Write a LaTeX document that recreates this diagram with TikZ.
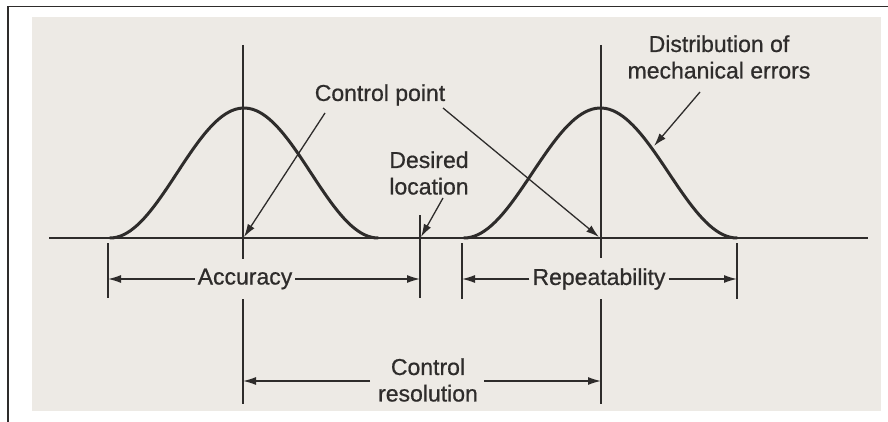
\documentclass[tikz,border=0pt]{standalone}
\usepackage{fontspec}
\setmainfont{Liberation Sans}
\newfontfamily\lblfont{Liberation Sans}[UprightFeatures={FakeBold=0.7}]
\usetikzlibrary{arrows.meta}
\definecolor{paper}{HTML}{EDEAE5}
\definecolor{ink}{HTML}{2E2C2B}
\begin{document}
\begin{tikzpicture}[x=1pt,y=-1pt,
  thin line/.style={draw=ink,line width=1.3pt},
  curve/.style={draw=ink,line width=3pt,line cap=round},
  arr/.style={thin line,-{Latex[length=13pt,width=8pt]}},
  lbl/.style={text=ink,font=\lblfont\fontsize{23}{26.5}\selectfont,inner sep=3pt,align=center}]
\useasboundingbox (0,0) rectangle (888,422);
% frame and paper
\fill[white] (0,0) rectangle (888,422);
\fill[paper] (32,17) rectangle (881,411);
\draw[draw=ink,line width=1.6pt] (8,422) -- (8,6.5) -- (888,6.5);
% baseline
\coordinate (b0) at (49,238);
\coordinate (b1) at (868,238);
\draw[draw=ink,line width=1.7pt] (b0) -- (b1);
% curves
\draw[curve] plot[domain=-1:1,samples=80] ({244+134*\x},{238-130*(1+cos(180*\x))/2});
\draw[curve] plot[domain=-1:1,samples=80] ({600.5+136.5*\x},{238-130*(1+cos(180*\x))/2});
% labels
\node[lbl] (cp) at (380,95) {Control point};
\node[lbl] (dl) at (429,173) {Desired\\location};
\node[lbl] (dme) at (719,57) {Distribution of\\mechanical errors};
\node[lbl] (acc) at (245,279) {Accuracy};
\node[lbl] (rep) at (599,279) {Repeatability};
\node[lbl] (cr) at (428,380) {Control\\resolution};
% vertical lines
\coordinate (lt) at (243,45);
\coordinate (lm1) at (243,259);
\coordinate (lm2) at (243,299);
\coordinate (lb) at (243,404);
\coordinate (rt) at (601,45);
\coordinate (rm1) at (601,258);
\coordinate (rm2) at (601,299);
\coordinate (rb) at (601,404);
\draw[thin line] (lt) -- (lm1);
\draw[thin line] (lm2) -- (lb);
\draw[thin line] (rt) -- (rm1);
\draw[thin line] (rm2) -- (rb);
% ticks
\coordinate (t1a) at (108,243); \coordinate (t1b) at (108,298);
\coordinate (t2a) at (420,215); \coordinate (t2b) at (420,298);
\coordinate (t3a) at (462,243); \coordinate (t3b) at (462,299);
\coordinate (t4a) at (737,243); \coordinate (t4b) at (737,299);
\draw[thin line] (t1a) -- (t1b);
\draw[thin line] (t2a) -- (t2b);
\draw[thin line] (t3a) -- (t3b);
\draw[thin line] (t4a) -- (t4b);
% dimension arrows
\draw[arr] (acc.west) -- (108,279);
\draw[arr] (acc.east) -- (420,279);
\draw[arr] (rep.west) -- (462,279);
\draw[arr] (rep.east) -- (737,279);
\coordinate (crl) at (370,381);
\coordinate (crr) at (484,381);
\draw[arr] (crl) -- (243,381);
\draw[arr] (crr) -- (601,381);
% pointer arrows
\coordinate (cp1) at (325,113);
\coordinate (cp2) at (443,108);
\coordinate (cpl) at (244,237);
\coordinate (cpr) at (599,237);
\draw[arr] (cp1) -- (cpl);
\draw[arr] (cp2) -- (cpr);
\coordinate (dl1) at (443,198);
\coordinate (dlt) at (421,237);
\draw[arr] (dl1) -- (dlt);
\coordinate (dm1) at (700,92);
\coordinate (dmt) at (654,146);
\draw[arr] (dm1) -- (dmt);
\end{tikzpicture}
\end{document}
